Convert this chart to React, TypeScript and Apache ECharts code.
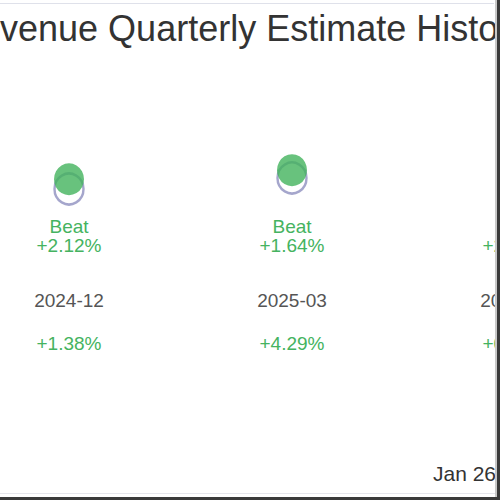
import { useEffect, useRef } from 'react'
import * as echarts from 'echarts'

// quarters shown on the x axis (the third one is cut off by the frame)
const quarters = ['2024-12', '2025-03', '2025-06']
// revenue estimate vs. actual (hidden y scale)
const estimates = [100, 102.4, 104.2]
const actuals = [102.12, 104.08, 106.39]
const results = ['Beat', 'Beat', 'Beat']
const surprises = ['+2.12%', '+1.64%', '+2.10%']
const changes = ['+1.38%', '+4.29%', '+0.95%']

const FONT = "'Liberation Sans', Arial, sans-serif"
const GREEN = '#45b360'

export default function App() {
  const chartRef = useRef<HTMLDivElement>(null)

  useEffect(() => {
    if (!chartRef.current) return
    const chart = echarts.init(chartRef.current, null, { renderer: 'svg' })

    const baseAxis = {
      type: 'category',
      data: quarters,
      gridIndex: 0,
      position: 'bottom',
      axisLine: { show: false },
      axisTick: { show: false },
      splitLine: { show: false }
    }

    const option = {
      animation: false,
      title: {
        text: 'Revenue Quarterly Estimate History',
        left: 14,
        top: 10,
        padding: 0,
        textStyle: {
          fontSize: 36,
          fontWeight: 'normal',
          color: '#333',
          fontFamily: FONT
        }
      },
      grid: { left: 17.5, right: 73.5, top: 97, bottom: 288 },
      xAxis: [
        {
          ...baseAxis,
          axisLabel: {
            interval: 0,
            margin: 5,
            formatter: (_v: string, i: number) => `{r|${results[i]}}\n{r|${surprises[i]}}`,
            rich: {
              r: { color: GREEN, fontSize: 19, lineHeight: 19, fontFamily: FONT }
            }
          }
        },
        {
          ...baseAxis,
          offset: 73.5,
          axisLabel: {
            interval: 0,
            margin: 5,
            color: '#555',
            fontSize: 19,
            lineHeight: 19,
            fontFamily: FONT
          }
        },
        {
          ...baseAxis,
          offset: 116.5,
          axisLabel: {
            interval: 0,
            margin: 5,
            color: GREEN,
            fontSize: 19,
            lineHeight: 19,
            fontFamily: FONT,
            formatter: (_v: string, i: number) => changes[i]
          }
        }
      ],
      yAxis: { type: 'value', min: 95, max: 120, show: false },
      series: [
        {
          name: 'Estimate',
          type: 'scatter',
          data: estimates,
          symbolSize: [29, 31],
          itemStyle: { color: '#fff', borderColor: '#8f90bf', borderWidth: 2.5 },
          emphasis: { disabled: true },
          z: 2
        },
        {
          name: 'Actual',
          type: 'scatter',
          data: actuals,
          symbolSize: [30, 32],
          itemStyle: { color: '#42b35d' },
          emphasis: { disabled: true },
          z: 3
        }
      ],
      graphic: [
        {
          type: 'text',
          left: 493,
          top: 463,
          style: { text: 'Jan 26, 2025', fill: '#333', font: `21px ${FONT}` }
        }
      ]
    }

    chart.setOption(option as any)

    return () => {
      chart.dispose()
    }
  }, [])

  return (
    <div
      style={{
        position: 'fixed',
        left: 0,
        top: 0,
        width: 500,
        height: 500,
        overflow: 'hidden',
        background: '#fff'
      }}
    >
      <div
        ref={chartRef}
        style={{ position: 'absolute', left: -60, top: 0, width: 760, height: 500 }}
      />
      {/* frame of the cropped card */}
      <div style={{ position: 'absolute', left: 0, top: 3, width: 494, height: 1, background: '#dfe1ea' }} />
      <div style={{ position: 'absolute', left: 0, top: 493, width: 497, height: 1, background: '#e6e6ec' }} />
      <div style={{ position: 'absolute', left: 495, top: 0, width: 2, height: 500, background: '#c8c8c8' }} />
      <div style={{ position: 'absolute', left: 497, top: 0, width: 3, height: 500, background: '#3a3a3a' }} />
      <div style={{ position: 'absolute', left: 0, top: 497, width: 500, height: 3, background: '#3a3a3a' }} />
    </div>
  )
}
